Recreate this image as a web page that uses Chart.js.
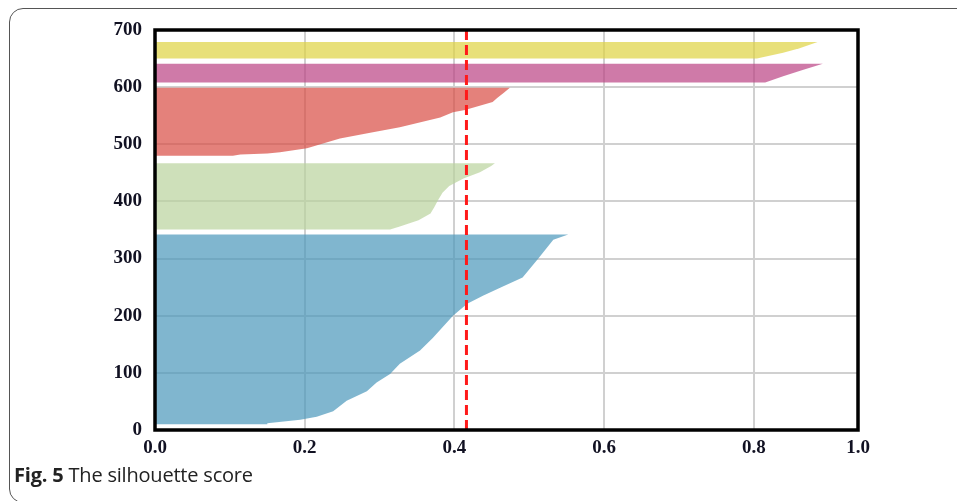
<!DOCTYPE html>
<html>
<head>
<meta charset="utf-8">
<script src="https://cdn.jsdelivr.net/npm/chart.js@4.4.1/dist/chart.umd.min.js"></script>
<style>
  body { margin: 0; background: #fff; }
  #wrap { position: relative; width: 957px; height: 501px; overflow: hidden; background: #fff; }
  #frame { position: absolute; left: 9px; top: 8px; width: 1000px; height: 495px;
           border: 1.5px solid #555; border-radius: 14px; box-sizing: border-box; }
  #c { position: absolute; left: 0; top: 0; }
  #caption { position: absolute; left: 14px; top: 463px; font-family: 'Open Sans', sans-serif;
             font-size: 20px; line-height: 24px; color: #222; white-space: nowrap; letter-spacing: -0.2px; }
</style>
</head>
<body>
<div id="wrap">
  <div id="frame"></div>
  <canvas id="c" width="957" height="501"></canvas>
  <div id="caption"><b>Fig. 5</b> The silhouette score</div>
</div>
<script>
// axis ticks
var xMax = 0.939;
var xTickValues = [0, 0.2, 0.4, 0.6, 0.8, xMax];
var xTickLabels = ['0.0', '0.2', '0.4', '0.6', '0.8', '1.0'];
var yTickValues = [0, 100, 200, 300, 400, 500, 600, 700];

// silhouette profiles, rows (sample index) and scores
var blueRows = [10, 12, 18, 23, 33, 51, 68, 83, 98, 116, 139, 161, 200, 221, 235, 249, 267, 300, 333, 342];
var blueScores = [0.150, 0.150, 0.194, 0.216, 0.238, 0.256, 0.283, 0.296, 0.314, 0.327, 0.354, 0.371, 0.398, 0.417, 0.438, 0.461, 0.491, 0.512, 0.532, 0.552];

var greenRows = [351, 356, 367, 379, 390, 402, 415, 427, 440, 451, 462, 467];
var greenScores = [0.314, 0.327, 0.352, 0.368, 0.373, 0.378, 0.384, 0.393, 0.412, 0.434, 0.449, 0.454];

var redRows = [480, 482, 484, 486, 493, 510, 521, 530, 547, 556, 560, 574, 581, 590, 599];
var redScores = [0.104, 0.114, 0.150, 0.167, 0.203, 0.247, 0.291, 0.327, 0.381, 0.398, 0.414, 0.451, 0.457, 0.466, 0.474];

var magentaRows = [608, 619, 630, 641];
var magentaScores = [0.815, 0.839, 0.865, 0.892];

var yellowRows = [650, 660, 668, 679];
var yellowScores = [0.804, 0.839, 0.861, 0.885];

var avgScore = 0.416;

function shape(rows, scores) {
    var pts = [{x: 0, y: rows[0]}];
    for (var i = 0; i < rows.length; i++) {
        pts.push({x: scores[i], y: rows[i]});
    }
    pts.push({x: 0, y: rows[rows.length - 1]});
    return pts;
}

function cluster(rows, scores, color) {
    return {
        data: shape(rows, scores),
        showLine: true,
        fill: 'shape',
        backgroundColor: color,
        borderColor: 'transparent',
        borderWidth: 1,
        pointRadius: 0,
        tension: 0,
    };
}

var framePlugin = {
    id: 'frame',
    afterDraw: function(chart) {
        var a = chart.chartArea;
        var ctx = chart.ctx;
        ctx.save();
        ctx.strokeStyle = '#000';
        ctx.lineWidth = 3.5;
        ctx.strokeRect(a.left, a.top, a.right - a.left, a.bottom - a.top);
        ctx.restore();
    }
};

var tickFont = { family: "'Liberation Serif', 'Times New Roman', serif", size: 19, weight: 'bold' };

var ctx = document.getElementById('c');
var myChart = new Chart(ctx, {
    type: 'scatter',
    plugins: [framePlugin],
    data: {
        datasets: [
            // average score line, first so it is drawn on top
            {
                data: [{x: avgScore, y: 0}, {x: avgScore, y: 700}],
                showLine: true,
                fill: false,
                borderColor: '#ff1a1a',
                borderWidth: 3,
                borderDash: [10, 5],
                pointRadius: 0,
            },
            cluster(blueRows, blueScores, 'rgba(74, 151, 186, 0.7)'),
            cluster(greenRows, greenScores, 'rgba(185, 211, 156, 0.7)'),
            cluster(redRows, redScores, 'rgba(217, 76, 67, 0.7)'),
            cluster(magentaRows, magentaScores, 'rgba(186, 65, 131, 0.7)'),
            cluster(yellowRows, yellowScores, 'rgba(222, 211, 65, 0.7)'),
        ]
    },
    options: {
        responsive: false,
        animation: false,
        layout: {
            padding: { left: 0, top: 30, right: 99, bottom: 31 }
        },
        plugins: {
            legend: { display: false },
            tooltip: { enabled: false },
        },
        scales: {
            x: {
                type: 'linear',
                min: 0,
                max: xMax,
                afterFit: function(scale) { scale.height = 40; },
                afterBuildTicks: function(scale) {
                    scale.ticks = xTickValues.map(function(v) { return {value: v}; });
                },
                ticks: {
                    font: tickFont,
                    color: '#111122',
                    padding: 7,
                    maxRotation: 0,
                    autoSkip: false,
                    callback: function(value, index) { return xTickLabels[index]; }
                },
                grid: { color: '#d0d0d0', lineWidth: 2, drawTicks: false },
                border: { display: false },
            },
            y: {
                type: 'linear',
                min: 0,
                max: 700,
                afterFit: function(scale) { scale.width = 155; },
                afterBuildTicks: function(scale) {
                    scale.ticks = yTickValues.map(function(v) { return {value: v}; });
                },
                ticks: {
                    font: tickFont,
                    color: '#111122',
                    padding: 13,
                    autoSkip: false,
                },
                grid: { color: '#d0d0d0', lineWidth: 2, drawTicks: false },
                border: { display: false },
            },
        },
    },
});
</script>
</body>
</html>
